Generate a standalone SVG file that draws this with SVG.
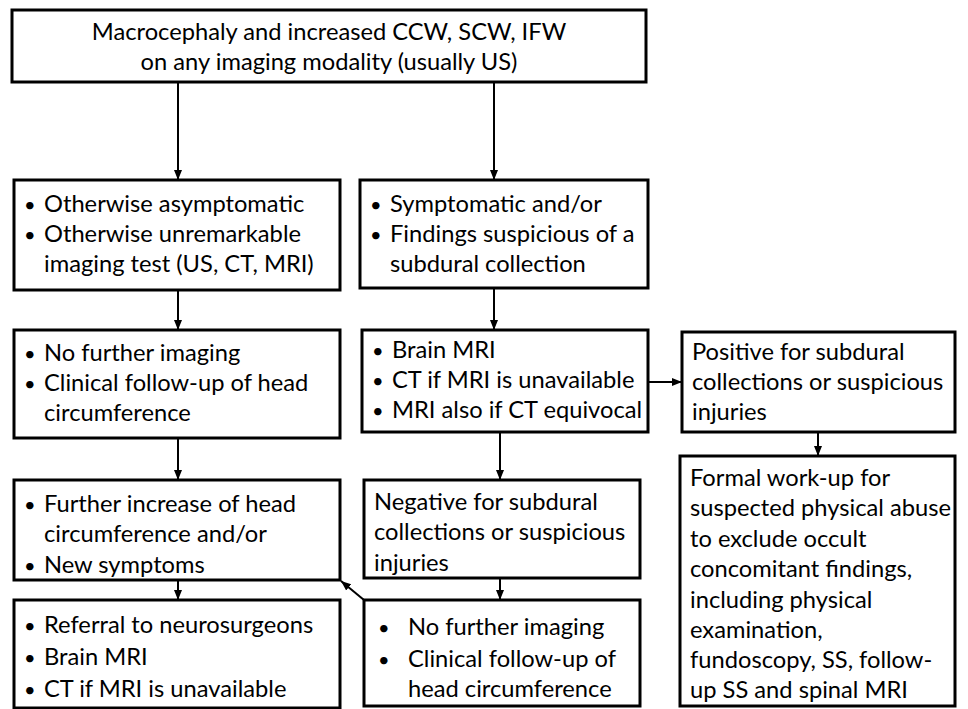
<svg xmlns="http://www.w3.org/2000/svg" width="968" height="709" viewBox="0 0 968 709">
<style>
.box{fill:#fff;stroke:#000;stroke-width:3}
.t{font-family:Lato,"Liberation Sans",sans-serif;font-size:23.7px;fill:#000}
.b{font-size:20px}
.c{text-anchor:middle}
.con{stroke:#000;stroke-width:2;fill:none}
</style>
<defs>
<marker id="ah2" viewBox="0 0 10 10" refX="10" refY="5" markerWidth="10" markerHeight="10" markerUnits="userSpaceOnUse" orient="auto"><path d="M0,1 L10,5 L0,9 z" fill="#000"/></marker>
</defs>
<rect width="968" height="709" fill="#fff"/>
<g id="connectors">
<line class="con" x1="178" y1="82" x2="178" y2="180" marker-end="url(#ah2)"/>
<line class="con" x1="494" y1="82" x2="494" y2="180" marker-end="url(#ah2)"/>
<line class="con" x1="178" y1="290" x2="178" y2="330" marker-end="url(#ah2)"/>
<line class="con" x1="494" y1="288" x2="494" y2="330" marker-end="url(#ah2)"/>
<line class="con" x1="648" y1="382" x2="682" y2="382" marker-end="url(#ah2)"/>
<line class="con" x1="818" y1="432" x2="818" y2="456" marker-end="url(#ah2)"/>
<line class="con" x1="178" y1="438" x2="178" y2="480" marker-end="url(#ah2)"/>
<line class="con" x1="500" y1="432" x2="500" y2="480" marker-end="url(#ah2)"/>
<line class="con" x1="178" y1="580" x2="178" y2="600" marker-end="url(#ah2)"/>
<line class="con" x1="500" y1="578" x2="500" y2="600" marker-end="url(#ah2)"/>
<line class="con" x1="364" y1="600" x2="341" y2="581" marker-end="url(#ah2)"/>
</g>
<g id="n_top">
<rect class="box" x="12" y="10" width="634" height="72"/>
<text class="t c" x="329" y="40">Macrocephaly and increased CCW, SCW, IFW</text>
<text class="t c" x="329" y="70">on any imaging modality (usually US)</text>
</g>
<g id="n_asym">
<rect class="box" x="14" y="180" width="326" height="110"/>
<text class="t b" x="24" y="212">•</text><text class="t" x="44" y="212">Otherwise asymptomatic</text>
<text class="t b" x="24" y="242">•</text><text class="t" x="44" y="242">Otherwise unremarkable</text>
<text class="t" x="44" y="272">imaging test (US, CT, MRI)</text>
</g>
<g id="n_sym">
<rect class="box" x="360" y="180" width="288" height="108"/>
<text class="t b" x="370" y="212">•</text><text class="t" x="390" y="212">Symptomatic and/or</text>
<text class="t b" x="370" y="242">•</text><text class="t" x="390" y="242">Findings suspicious of a</text>
<text class="t" x="390" y="272">subdural collection</text>
</g>
<g id="n_nofurther1">
<rect class="box" x="14" y="330" width="326" height="108"/>
<text class="t b" x="24" y="361">•</text><text class="t" x="44" y="361">No further imaging</text>
<text class="t b" x="24" y="391">•</text><text class="t" x="44" y="391">Clinical follow-up of head</text>
<text class="t" x="44" y="421">circumference</text>
</g>
<g id="n_mri">
<rect class="box" x="362" y="330" width="286" height="102"/>
<text class="t b" x="372" y="358">•</text><text class="t" x="392" y="358">Brain MRI</text>
<text class="t b" x="372" y="388">•</text><text class="t" x="392" y="388">CT if MRI is unavailable</text>
<text class="t b" x="372" y="418">•</text><text class="t" x="392" y="418">MRI also if CT equivocal</text>
</g>
<g id="n_positive">
<rect class="box" x="682" y="332" width="273" height="100"/>
<text class="t" x="692" y="360">Positive for subdural</text>
<text class="t" x="692" y="390">collections or suspicious</text>
<text class="t" x="692" y="420">injuries</text>
</g>
<g id="n_formal">
<rect class="box" x="680" y="456" width="275" height="250"/>
<text class="t" x="690" y="486">Formal work-up for</text>
<text class="t" x="690" y="516">suspected physical abuse</text>
<text class="t" x="690" y="547">to exclude occult</text>
<text class="t" x="690" y="577">concomitant findings,</text>
<text class="t" x="690" y="608">including physical</text>
<text class="t" x="690" y="638">examination,</text>
<text class="t" x="690" y="668">fundoscopy, SS, follow-</text>
<text class="t" x="690" y="698">up SS and spinal MRI</text>
</g>
<g id="n_further">
<rect class="box" x="14" y="480" width="326" height="100"/>
<text class="t b" x="24" y="512">•</text><text class="t" x="44" y="512">Further increase of head</text>
<text class="t" x="44" y="542">circumference and/or</text>
<text class="t b" x="24" y="573">•</text><text class="t" x="44" y="573">New symptoms</text>
</g>
<g id="n_negative">
<rect class="box" x="364" y="480" width="276" height="98"/>
<text class="t" x="374" y="510">Negative for subdural</text>
<text class="t" x="374" y="540">collections or suspicious</text>
<text class="t" x="374" y="571">injuries</text>
</g>
<g id="n_referral">
<rect class="box" x="14" y="600" width="326" height="108"/>
<text class="t b" x="24" y="633">•</text><text class="t" x="44" y="633">Referral to neurosurgeons</text>
<text class="t b" x="24" y="665">•</text><text class="t" x="44" y="665">Brain MRI</text>
<text class="t b" x="24" y="697">•</text><text class="t" x="44" y="697">CT if MRI is unavailable</text>
</g>
<g id="n_nofurther2">
<rect class="box" x="364" y="600" width="276" height="106"/>
<text class="t b" x="378" y="635">•</text><text class="t" x="408" y="635">No further imaging</text>
<text class="t b" x="378" y="667">•</text><text class="t" x="408" y="667">Clinical follow-up of</text>
<text class="t" x="408" y="697">head circumference</text>
</g>
</svg>
